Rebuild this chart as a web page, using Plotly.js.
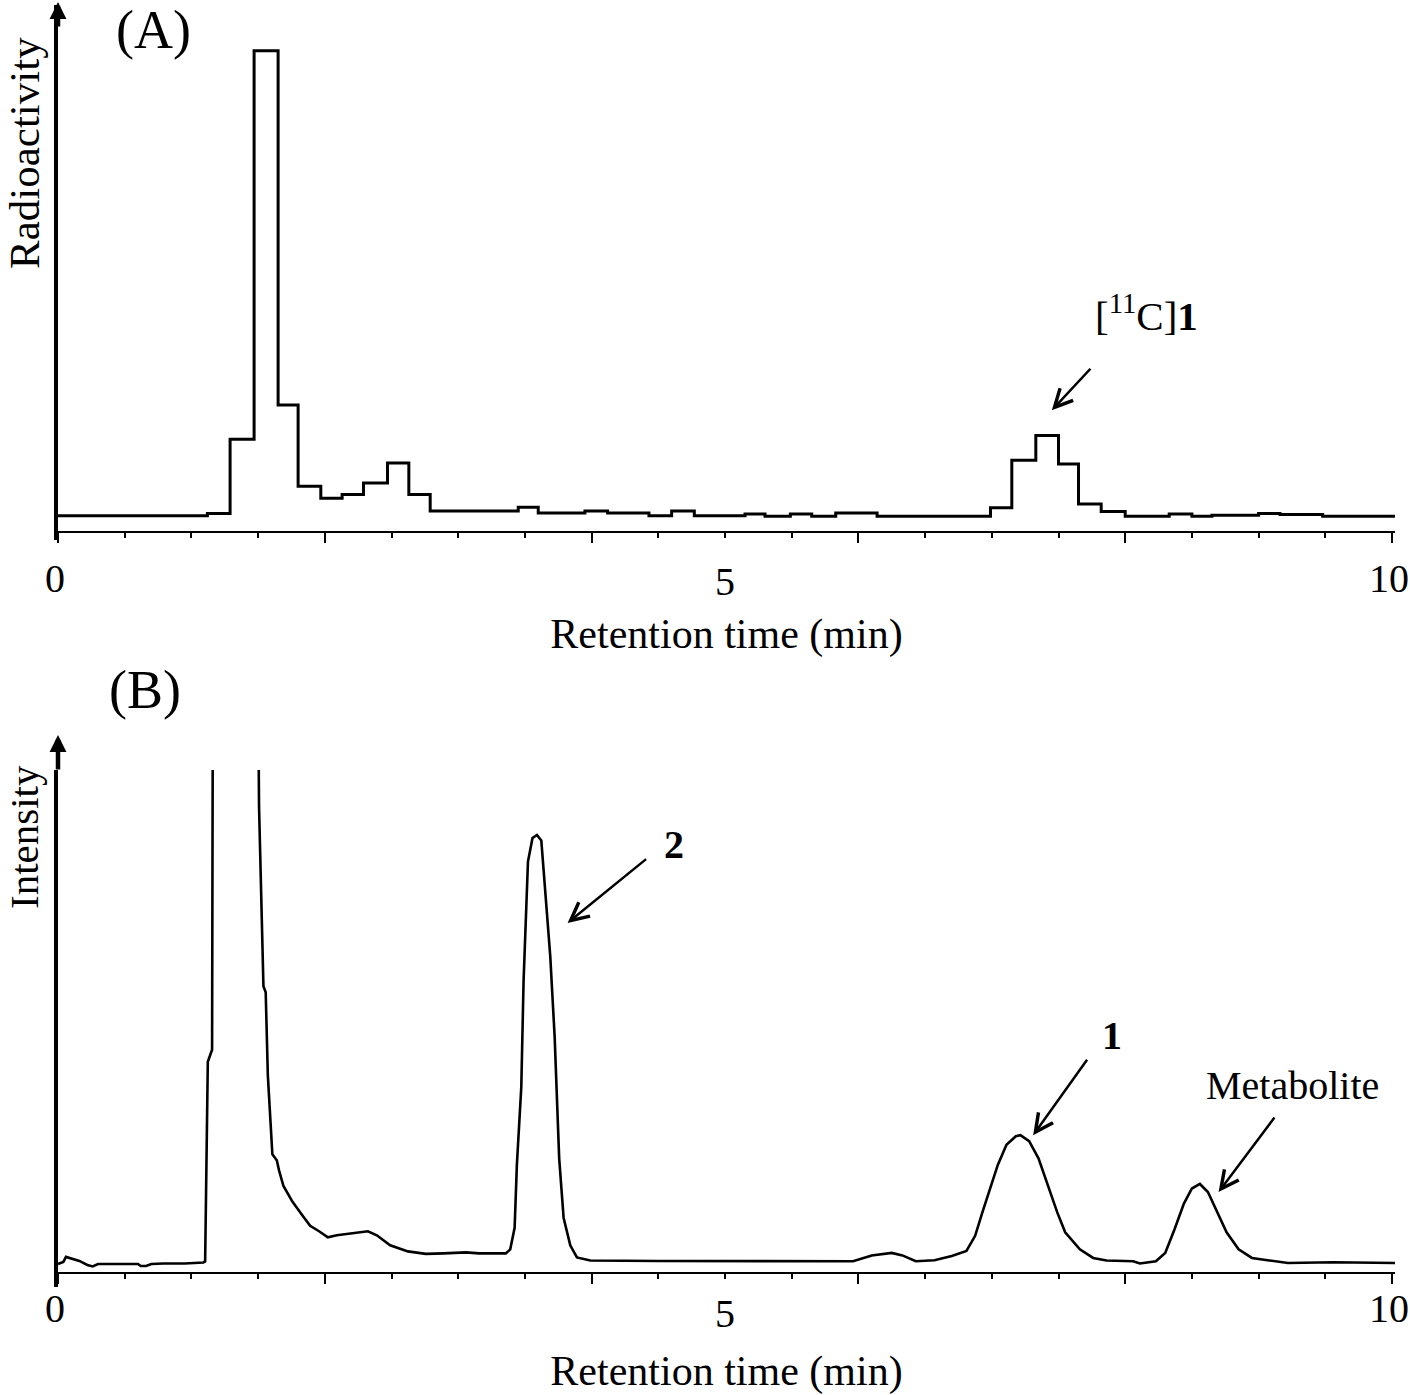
<!DOCTYPE html>
<html>
<head>
<meta charset="utf-8">
<script src="https://cdn.plot.ly/plotly-3.0.1.min.js"></script>
<style>
  html, body { margin: 0; padding: 0; background: #ffffff; }
  #chart { width: 1410px; height: 1395px; }
</style>
</head>
<body>
<div id="chart"></div>
<script>
// ---------------- Data ----------------
// (A) Radio-HPLC chromatogram: start time of each counting step (min) and radioactivity (arbitrary units)
const radioTime = [0, 1.12, 1.29, 1.47, 1.65, 1.80, 1.97, 2.13, 2.29, 2.47,
                   2.63, 2.79, 3.45, 3.60, 3.95, 4.12, 4.43, 4.60, 4.77, 5.15,
                   5.30, 5.49, 5.65, 5.83, 6.14, 6.99, 7.15, 7.33, 7.50, 7.65,
                   7.82, 8.00, 8.33, 8.50, 8.65, 9.00, 9.16, 9.48, 10.03];
const radioValue = [3.1, 3.5, 17.6, 91.3, 24.1, 8.7, 6.4, 7.1, 9.3, 13.1,
                    7.1, 4.0, 4.7, 3.6, 4.0, 3.6, 3.1, 4.0, 3.1, 3.4,
                    3.0, 3.4, 3.0, 3.6, 3.0, 4.6, 13.6, 18.3, 12.9, 5.3,
                    3.9, 3.0, 3.4, 3.0, 3.2, 3.5, 3.3, 3.0, 3.0];

// (B) UV chromatogram: retention time (min) and intensity (arbitrary units, 100 = top of frame)
const uvTime = [0, 0.04, 0.06, 0.10, 0.16, 0.22, 0.26, 0.30, 0.45, 0.60,
                0.62, 0.66, 0.70, 0.79, 0.95, 1.09, 1.103, 1.107, 1.123, 1.155,
                1.162, 1.25, 1.35, 1.45, 1.50, 1.507, 1.54, 1.557, 1.573, 1.59,
                1.607, 1.64, 1.657, 1.69, 1.757, 1.823, 1.89, 1.957, 2.023, 2.09,
                2.19, 2.323, 2.39, 2.49, 2.623, 2.757, 2.89, 3.057, 3.157, 3.357,
                3.39, 3.423, 3.44, 3.473, 3.49, 3.523, 3.557, 3.59, 3.623, 3.657,
                3.69, 3.723, 3.757, 3.79, 3.84, 3.89, 3.99, 4.5, 5.0, 5.5,
                5.96, 6.1, 6.25, 6.33, 6.43, 6.57, 6.7, 6.81, 6.875, 6.93,
                6.98, 7.045, 7.11, 7.18, 7.215, 7.28, 7.35, 7.42, 7.49, 7.55,
                7.66, 7.76, 7.86, 8.06, 8.11, 8.23, 8.3, 8.37, 8.44, 8.5,
                8.56, 8.62, 8.69, 8.76, 8.85, 8.95, 9.08, 9.22, 9.56, 10.03];
const uvValue = [1.8, 2.2, 3.2, 2.9, 2.4, 1.6, 1.3, 1.8, 1.8, 1.8,
                 1.4, 1.4, 1.8, 1.9, 1.9, 2.1, 2.3, 11, 42, 44.4,
                 130, 400, 450, 300, 110, 92.8, 57, 55.8, 39.3, 31.4,
                 23.6, 22.4, 20.4, 17.3, 14.2, 11.8, 9.4, 8.3, 7.1, 7.5,
                 7.9, 8.3, 7.5, 5.5, 4.3, 3.8, 3.9, 4.1, 3.9, 3.9,
                 4.7, 9.0, 21.6, 37, 58, 81.8, 86.5, 87.1, 86, 75,
                 63, 47, 22.8, 11, 5.5, 3.1, 2.5, 2.4, 2.35, 2.35,
                 2.35, 3.5, 4.0, 3.5, 2.35, 2.55, 3.4, 4.4, 7.4, 12.1,
                 16.4, 21.5, 25.5, 27.2, 27.4, 26.2, 22.8, 17.4, 12.1, 8.1,
                 4.7, 3.0, 2.5, 2.35, 1.9, 2.35, 4.0, 8.7, 13.8, 16.8,
                 17.7, 16.1, 12.1, 8.1, 4.7, 3.0, 2.5, 2.0, 2.15, 2.0];

// Axis tick labels
const majorTicks = [0, 2, 4, 6, 8, 10];
const majorTickText = ['0', '', '', '', '', '10'];
const midLabelValue = 5;
const midLabelText = '5';

// ---------------- Layout helpers ----------------
const W = 1410, H = 1395;
const px = v => v / W;            // horizontal pixel -> paper
const py = v => (H - v) / H;      // vertical pixel -> paper
const FONT = 'Liberation Serif, Times New Roman, serif';

const traces = [
  {
    type: 'scatter', mode: 'lines',
    x: radioTime, y: radioValue,
    xaxis: 'x', yaxis: 'y',
    line: { color: '#000000', width: 3, shape: 'hv' },
    hoverinfo: 'skip'
  },
  {
    type: 'scatter', mode: 'lines',
    x: uvTime, y: uvValue,
    xaxis: 'x2', yaxis: 'y2',
    line: { color: '#000000', width: 2.6 },
    hoverinfo: 'skip'
  }
];

function xAxisDef(posPx, labelStandoff, titleStandoff) {
  return {
    domain: [px(58), px(1395)],
    range: [0, (1395 - 58) / 133.4],
    anchor: 'free',
    position: py(posPx),
    showline: true, linecolor: '#000000', linewidth: 2,
    showgrid: false, zeroline: false,
    ticks: 'outside', tickmode: 'array',
    tickvals: majorTicks, ticktext: majorTickText,
    ticklen: 10, tickwidth: 2, tickcolor: '#000000',
    minor: { tick0: 0, dtick: 0.5, ticks: 'outside', ticklen: 5, tickwidth: 2, tickcolor: '#000000' },
    tickfont: { family: FONT, size: 40, color: '#000000' },
    ticklabelstandoff: labelStandoff,
    ticklabelshift: -3,
    title: { text: 'Retention time (min)', font: { family: FONT, size: 42, color: '#000000' }, standoff: titleStandoff },
    fixedrange: true
  };
}

const layout = {
  width: W, height: H,
  margin: { l: 0, r: 0, t: 0, b: 0 },
  paper_bgcolor: '#ffffff', plot_bgcolor: 'rgba(0,0,0,0)',
  showlegend: false, hovermode: false,
  font: { family: FONT, color: '#000000' },
  xaxis: xAxisDef(532, 1, 18),
  yaxis: {
    domain: [py(540), py(5)],
    range: [-1.52, 100],
    anchor: 'x',
    showline: true, linecolor: '#000000', linewidth: 4.5,
    showticklabels: false, ticks: '', showgrid: false, zeroline: false,
    fixedrange: true
  },
  xaxis2: xAxisDef(1273, -10, 26),
  yaxis2: {
    domain: [py(1287), py(770)],
    range: [-2.78, 100],
    anchor: 'x2',
    showline: true, linecolor: '#000000', linewidth: 4.5,
    showticklabels: false, ticks: '', showgrid: false, zeroline: false,
    fixedrange: true
  },
  annotations: [
    // panel letters
    { text: '(A)', xref: 'paper', yref: 'paper', x: px(153), y: py(30), showarrow: false,
      font: { family: FONT, size: 54 }, xanchor: 'center', yanchor: 'middle' },
    { text: '(B)', xref: 'paper', yref: 'paper', x: px(145), y: py(690), showarrow: false,
      font: { family: FONT, size: 54 }, xanchor: 'center', yanchor: 'middle' },
    // y-axis titles
    { text: 'Radioactivity', xref: 'paper', yref: 'paper', x: px(25), y: py(153), textangle: -90,
      showarrow: false, font: { family: FONT, size: 43 }, xanchor: 'center', yanchor: 'middle' },
    { text: 'Intensity', xref: 'paper', yref: 'paper', x: px(24), y: py(837), textangle: -90,
      showarrow: false, font: { family: FONT, size: 41 }, xanchor: 'center', yanchor: 'middle' },
    // middle tick labels
    { text: midLabelText, xref: 'x', yref: 'paper', x: midLabelValue, y: py(581), showarrow: false,
      font: { family: FONT, size: 40 }, xanchor: 'center', yanchor: 'middle' },
    { text: midLabelText, xref: 'x2', yref: 'paper', x: midLabelValue, y: py(1313), showarrow: false,
      font: { family: FONT, size: 40 }, xanchor: 'center', yanchor: 'middle' },
    // axis arrowheads
    { text: '', xref: 'x', yref: 'y domain', x: 0, y: 1 + 3 / 535, ax: 0, ay: 26,
      showarrow: true, arrowhead: 2, arrowsize: 0.75, arrowwidth: 4.5, arrowcolor: '#000000' },
    { text: '', xref: 'x2', yref: 'y2 domain', x: 0, y: 1 + 35 / 517, ax: 0, ay: 36,
      showarrow: true, arrowhead: 2, arrowsize: 0.75, arrowwidth: 4.5, arrowcolor: '#000000' },
    // peak labels
    { text: '[<sup>11</sup>C]<b>1</b>', xref: 'paper', yref: 'paper', x: px(1146), y: py(313),
      showarrow: false, font: { family: FONT, size: 41 }, xanchor: 'center', yanchor: 'middle' },
    { text: '', xref: 'x', yref: 'y', x: 7.45, y: 23.1, ax: 40, ay: -43,
      showarrow: true, arrowhead: 5, arrowsize: 1.4, arrowwidth: 2.5, arrowcolor: '#000000' },
    { text: '<b>2</b>', xref: 'paper', yref: 'paper', x: px(674), y: py(844),
      showarrow: false, font: { family: FONT, size: 40 }, xanchor: 'center', yanchor: 'middle' },
    { text: '', xref: 'x2', yref: 'y2', x: 3.82, y: 69.6, ax: 80, ay: -65,
      showarrow: true, arrowhead: 5, arrowsize: 1.4, arrowwidth: 2.5, arrowcolor: '#000000' },
    { text: '<b>1</b>', xref: 'paper', yref: 'paper', x: px(1112), y: py(1035),
      showarrow: false, font: { family: FONT, size: 40 }, xanchor: 'center', yanchor: 'middle' },
    { text: '', xref: 'x2', yref: 'y2', x: 7.31, y: 27.4, ax: 55, ay: -77,
      showarrow: true, arrowhead: 5, arrowsize: 1.4, arrowwidth: 2.5, arrowcolor: '#000000' },
    { text: 'Metabolite', xref: 'paper', yref: 'paper', x: px(1292), y: py(1085),
      showarrow: false, font: { family: FONT, size: 40 }, xanchor: 'center', yanchor: 'middle' },
    { text: '', xref: 'x2', yref: 'y2', x: 8.70, y: 16.1, ax: 57, ay: -76,
      showarrow: true, arrowhead: 5, arrowsize: 1.4, arrowwidth: 2.5, arrowcolor: '#000000' }
  ]
};

Plotly.newPlot('chart', traces, layout, { staticPlot: true, displayModeBar: false });
</script>
</body>
</html>
